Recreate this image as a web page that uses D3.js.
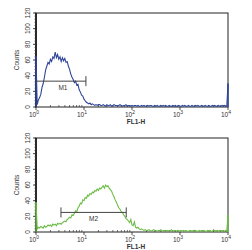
<!DOCTYPE html>
<html>
<head>
<meta charset="utf-8">
<script src="https://cdn.jsdelivr.net/npm/d3@7"></script>
<style>
body{margin:0;background:#fff;}
svg{display:block;font-family:"Liberation Sans",Arial,sans-serif;}
</style>
</head>
<body>
<script>
var w=252;
var h=250;

// decades shown on the FL1-H axis (10^0 .. 10^4)
var decades=[0,1,2,3,4];
var countTicks=[0,20,40,60,80,100,120];

// histogram counts, one value per channel, 0.025 decade per channel
var countsM1=[65,3,9,12,16,25,30,38,47,52,57,55,61,58,64,62,70,63,67,61,
  64,58,63,59,62,57,58,52,48,42,38,35,31,33,28,29,22,19,15,14,
  10,8,6,5,4,5,3,4,3,2,3,2,3,3,2,2,3,2,1,3,
  2,2,3,1,2,3,2,2,1,2,3,2,1,2,2,3,1,2,2,1,
  2,1,2,2,1,2,1,1,2,1,2,1,1,2,1,2,2,1,1,2,
  1,2,1,1,2,1,2,1,2,1,1,2,1,1,2,1,2,1,1,2,
  1,1,2,1,2,1,1,2,1,1,2,1,1,2,1,2,1,1,2,1,
  1,2,1,1,2,1,1,2,1,2,1,1,2,1,1,2,1,2,1,1,30];
var countsM2=[38,4,6,5,7,6,5,8,6,7,9,8,9,7,10,9,10,8,11,10,
  11,10,12,13,14,13,16,17,19,18,22,21,24,27,26,31,33,37,36,41,
  40,44,43,47,46,49,48,51,50,53,52,55,53,56,55,57,59,56,60,58,
  59,56,54,52,48,45,41,38,34,31,29,26,25,22,20,17,16,14,12,16,
  9,8,13,6,5,6,4,3,4,3,2,3,2,2,3,2,1,2,3,2,
  2,1,2,2,3,1,2,2,1,2,2,1,2,3,1,2,2,1,2,1,
  2,2,1,2,1,2,1,1,2,2,1,2,1,2,1,1,2,1,2,1,
  2,1,1,2,1,2,1,1,3,1,2,1,1,2,1,2,1,1,2,1,22];

// gate markers: [start decade, end decade, count level]
var gateM1=[0,1.04,33];
var gateM2=[0.52,1.88,25];

var panels=[
  {counts:countsM1,gate:gateM1,name:"M1",color:"#2f4699",top:0,leftTick:false},
  {counts:countsM2,gate:gateM2,name:"M2",color:"#6cbd45",top:125,leftTick:true}
];

var svg=d3.select("body")
          .append("svg")
          .attr("width",w)
          .attr("height",h);

var x=d3.scaleLinear().domain([0,4]).range([36,228]);
var y=d3.scaleLinear().domain([0,120]).range([107,13]);

panels.forEach(function(p){
  var g=svg.append("g").attr("transform","translate(0,"+p.top+")");
  var ch=d3.scaleLinear().domain([0,p.counts.length-1]).range([0,4]);

  //frame
  g.append("rect")
    .attr("x",x(0)).attr("y",y(120))
    .attr("width",x(4)-x(0)).attr("height",y(0)-y(120))
    .attr("fill","none").attr("stroke","#222").attr("stroke-width",1);
  g.append("line")
    .attr("x1",x(0)).attr("x2",x(0)).attr("y1",y(120)).attr("y2",y(0))
    .attr("stroke","#111").attr("stroke-width",1.6);

  //y ticks, minor every 4
  g.selectAll(".ym").data(d3.range(0,121,4)).enter().append("line")
    .attr("x1",x(0)-1.5).attr("x2",x(0))
    .attr("y1",d=>y(d)).attr("y2",d=>y(d))
    .attr("stroke","#333").attr("stroke-width",0.7);
  g.selectAll(".yt").data(countTicks).enter().append("line")
    .attr("x1",x(0)-3).attr("x2",x(0))
    .attr("y1",d=>y(d)).attr("y2",d=>y(d))
    .attr("stroke","#222").attr("stroke-width",0.8);
  g.selectAll(".yl").data(countTicks).enter().append("text")
    .attr("transform",d=>"translate(30,"+y(d)+") rotate(-90)")
    .attr("text-anchor","middle")
    .attr("font-size",6.5).attr("fill","#333")
    .text(d=>d);
  g.append("text")
    .attr("transform","translate(19,60) rotate(-90)")
    .attr("text-anchor","middle")
    .attr("font-size",6.5).attr("fill","#333")
    .text("Counts");

  //x ticks (log minor inside, decades outside)
  var minor=[];
  decades.slice(0,4).forEach(function(d){
    for(var k=2;k<10;k++) minor.push(d+Math.log10(k));
  });
  g.selectAll(".xm").data(minor).enter().append("line")
    .attr("x1",d=>x(d)).attr("x2",d=>x(d))
    .attr("y1",y(0)-2).attr("y2",y(0))
    .attr("stroke","#333").attr("stroke-width",0.7);
  g.selectAll(".xt").data(decades).enter().append("line")
    .attr("x1",d=>x(d)).attr("x2",d=>x(d))
    .attr("y1",y(0)).attr("y2",y(0)+3)
    .attr("stroke","#222").attr("stroke-width",0.8);
  var lab=g.selectAll(".xl").data(decades).enter().append("text")
    .attr("x",d=>x(d)-2).attr("y",y(0)+10)
    .attr("text-anchor","middle")
    .attr("font-size",6.5).attr("fill","#333");
  lab.append("tspan").text("10");
  lab.append("tspan").attr("dy",-3).attr("font-size",5).text(d=>d);
  g.append("text")
    .attr("x",136).attr("y",y(0)+17)
    .attr("text-anchor","middle")
    .attr("font-size",6.5).attr("font-weight","bold").attr("fill","#333")
    .text("FL1-H");

  //histogram
  var line=d3.line()
    .x((d,i)=>x(ch(i)))
    .y(d=>y(d));
  g.append("path")
    .datum(p.counts)
    .attr("d",line)
    .attr("fill","none")
    .attr("stroke",p.color)
    .attr("stroke-width",1.1);
  //spikes at both ends of the scale
  g.append("line")
    .attr("x1",x(0)).attr("x2",x(0))
    .attr("y1",y(0)).attr("y2",y(p.counts[0]))
    .attr("stroke",p.color).attr("stroke-width",1.3);
  g.append("line")
    .attr("x1",x(4)).attr("x2",x(4))
    .attr("y1",y(0)).attr("y2",y(p.counts[p.counts.length-1]))
    .attr("stroke",p.color).attr("stroke-width",1.3);

  //gate marker
  var gt=p.gate;
  g.append("line")
    .attr("x1",x(gt[0])).attr("x2",x(gt[1]))
    .attr("y1",y(gt[2])).attr("y2",y(gt[2]))
    .attr("stroke","#444").attr("stroke-width",1);
  var ends=p.leftTick?[gt[0],gt[1]]:[gt[1]];
  g.selectAll(".ge").data(ends).enter().append("line")
    .attr("x1",d=>x(d)).attr("x2",d=>x(d))
    .attr("y1",y(gt[2])-5).attr("y2",y(gt[2])+5)
    .attr("stroke","#444").attr("stroke-width",1);
  g.append("text")
    .attr("x",x((gt[0]+gt[1])/2)+(p.leftTick?0:2)).attr("y",y(gt[2])+9)
    .attr("text-anchor","middle")
    .attr("font-size",6.5).attr("fill","#333")
    .text(p.name);
});
</script>
</body>
</html>
